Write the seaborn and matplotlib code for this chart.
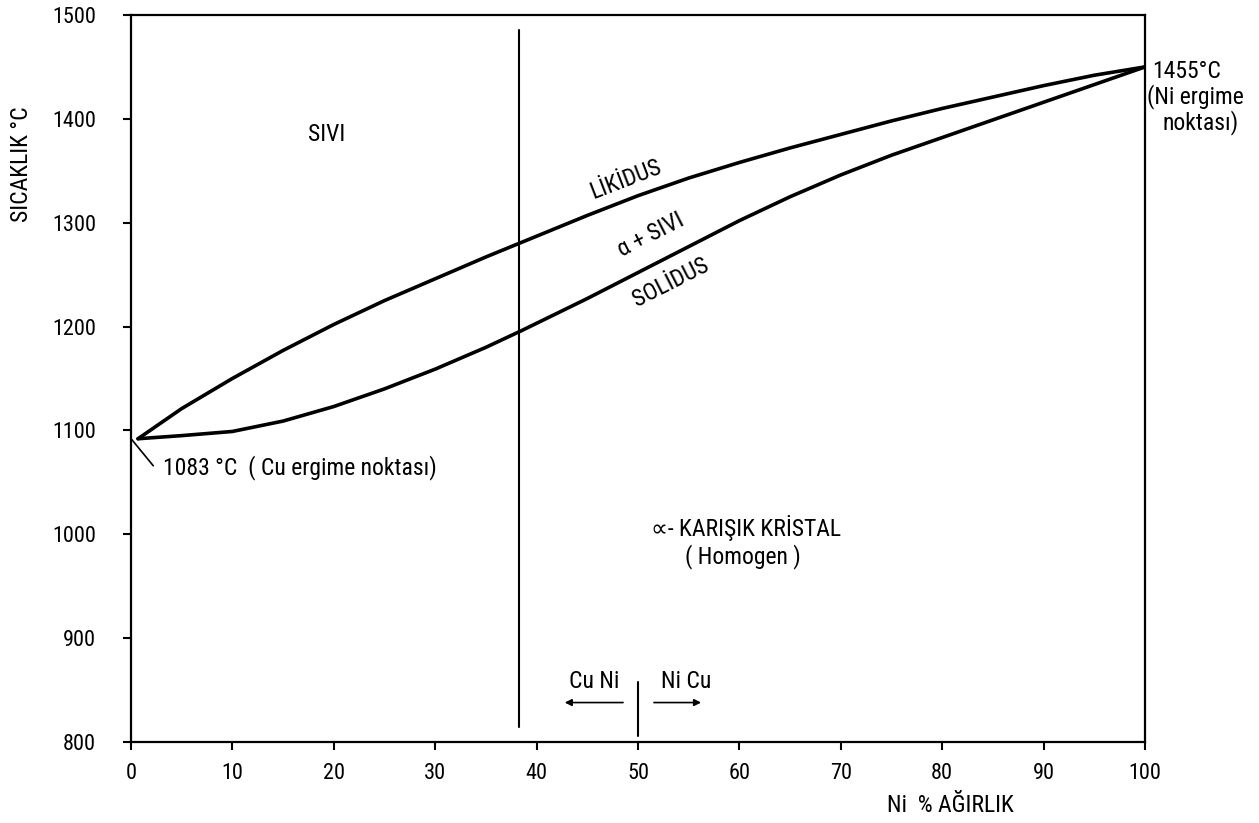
import matplotlib
matplotlib.use("Agg")
import matplotlib.pyplot as plt
from matplotlib import font_manager
import pandas as pd
import seaborn as sns

sns.set_style("white")
names = {f.name for f in font_manager.fontManager.ttflist}
fam = [n for n in ["DejaVu Sans Condensed", "Liberation Sans Narrow", "Roboto Condensed"] if n in names]
plt.rcParams["font.family"] = fam + ["DejaVu Sans"]
plt.rcParams["text.color"] = "black"
plt.rcParams["axes.labelcolor"] = "black"

# Cu-Ni phase diagram
liq_x = [0.7, 5, 10, 15, 20, 25, 30, 35, 38.5, 45, 50, 55, 60, 65, 70, 75, 80, 85, 90, 95, 100]
liq_t = [1092, 1121, 1150, 1177, 1202, 1225, 1246, 1267, 1281, 1307, 1326, 1343, 1358, 1372,
         1385, 1398, 1410, 1421, 1432, 1442, 1450]
sol_x = [0.7, 5, 10, 15, 20, 25, 30, 35, 38.5, 45, 50, 55, 60, 65, 70, 75, 80, 85, 90, 95, 100]
sol_t = [1092, 1095, 1099, 1109, 1123, 1140, 1159, 1180, 1196, 1227, 1252, 1277, 1302, 1325,
         1346, 1365, 1382, 1399, 1416, 1433, 1450]

x_ticks = [0, 10, 20, 30, 40, 50, 60, 70, 80, 90, 100]
y_ticks = [800, 900, 1000, 1100, 1200, 1300, 1400, 1500]

divider_x = 38.3
cuni_x = 50

liq = pd.DataFrame({"x": liq_x, "t": liq_t})
sol = pd.DataFrame({"x": sol_x, "t": sol_t})

fig = plt.figure(figsize=(12.59, 8.23), dpi=100)
ax = fig.add_axes([0.104, 0.0984, 0.8055, 0.8834])

for d in (liq, sol):
    sns.lineplot(data=d, x="x", y="t", ax=ax, color="black", lw=2.6, sort=True,
                 solid_joinstyle="round", solid_capstyle="round")

ax.set_xlim(0, 100)
ax.set_ylim(800, 1500)
ax.set_xticks(x_ticks)
ax.set_yticks(y_ticks)
ax.tick_params(axis="both", direction="out", length=6, width=1.5, labelsize=16,
               colors="black", bottom=True, left=True)
ax.tick_params(axis="x", pad=9)
ax.tick_params(axis="y", pad=19)
for s in ax.spines.values():
    s.set_linewidth(1.6)
    s.set_color("black")

# vertical guide lines
ax.plot([divider_x, divider_x], [814, 1486], color="black", lw=1.5)
ax.plot([cuni_x, cuni_x], [806, 858], color="black", lw=1.5)

fs = 17
# Cu Ni / Ni Cu arrows
ax.annotate("", xy=(42.5, 838), xytext=(48.8, 838),
            arrowprops=dict(arrowstyle="-|>", color="black", lw=1.2, mutation_scale=10))
ax.annotate("", xy=(56.5, 838), xytext=(51.3, 838),
            arrowprops=dict(arrowstyle="-|>", color="black", lw=1.2, mutation_scale=10))
ax.text(45.7, 858, "Cu Ni", fontsize=fs, ha="center", va="center")
ax.text(54.8, 858, "Ni Cu", fontsize=fs, ha="center", va="center")

# region labels
ax.text(19.3, 1385, "SIVI", fontsize=fs, ha="center", va="center")
ax.text(48.8, 1342, "LİKİDUS", fontsize=fs, ha="center", va="center", rotation=21)
ax.text(51.3, 1288, "α + SIVI", fontsize=fs, ha="center", va="center", rotation=27)
ax.text(53.2, 1242, "SOLİDUS", fontsize=fs, ha="center", va="center", rotation=27)
ax.text(51.3, 1006, "∝- KARIŞIK KRİSTAL", fontsize=fs, ha="left", va="center")
ax.text(60.3, 979, "( Homogen )", fontsize=fs, ha="center", va="center")

# melting points
ax.plot([0.1, 2.2], [1091, 1066], color="black", lw=1.2)
ax.text(3.2, 1064, "1083 °C  ( Cu ergime noktası)", fontsize=fs, ha="left", va="center")
ax.text(100.7, 1446, "1455°C", fontsize=fs, ha="left", va="center", clip_on=False)
ax.text(100.2, 1421, "(Ni ergime", fontsize=fs, ha="left", va="center", clip_on=False)
ax.text(101.7, 1396, "noktası)", fontsize=fs, ha="left", va="center", clip_on=False)

ax.set_xlabel("Ni  % AĞIRLIK", fontsize=fs, va="center")
ax.set_ylabel("SICAKLIK °C", fontsize=fs, va="center")
ax.xaxis.set_label_coords(0.808, -0.087)
ax.yaxis.set_label_coords(-0.108, 0.795)

fig.savefig("out.png", dpi=100)
